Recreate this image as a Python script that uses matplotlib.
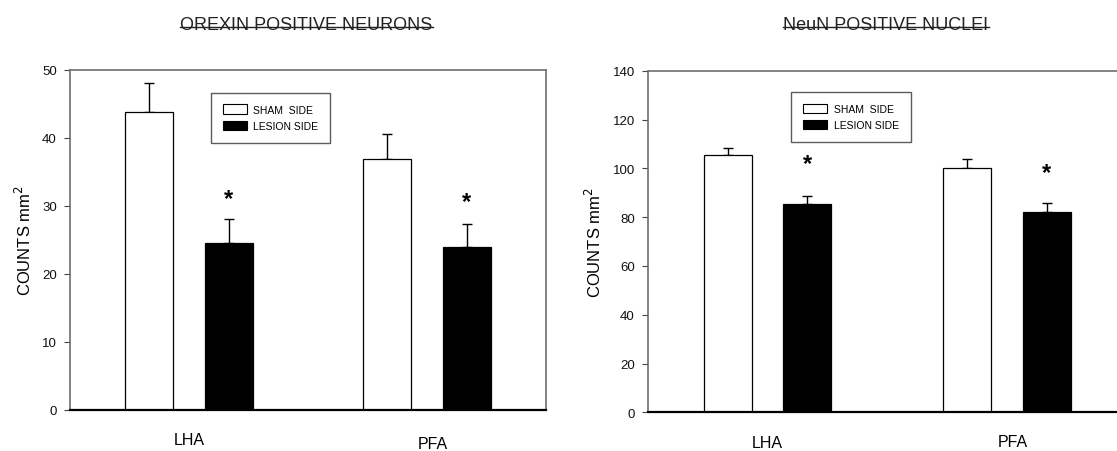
import matplotlib.pyplot as plt
from matplotlib.lines import Line2D
from matplotlib.patches import Patch

plt.rcParams["font.family"] = ["Liberation Sans", "DejaVu Sans"]

REGIONS = ["LHA", "PFA"]
SERIES = ["SHAM  SIDE", "LESION SIDE"]

OREXIN_SHAM = [43.8, 36.9]
OREXIN_SHAM_ERR = [4.2, 3.7]
OREXIN_LESION = [24.5, 24.0]
OREXIN_LESION_ERR = [3.6, 3.3]
OREXIN_STAR_Y = [31.0, 30.6]

NEUN_SHAM = [105.3, 100.0]
NEUN_SHAM_ERR = [3.2, 3.7]
NEUN_LESION = [85.2, 82.1]
NEUN_LESION_ERR = [3.6, 3.6]
NEUN_STAR_Y = [102.0, 98.4]

FW, FH = 1117, 452


def px_rect(left, top, right, bottom):
    """Axes rect in figure fraction from pixel box."""
    return [left / FW, (FH - bottom) / FH, (right - left) / FW,
            (bottom - top) / FH]


def panel(fig, rect, sham, sham_err, lesion, lesion_err, star_y,
          ymax, ystep, title, title_x, legend_anchor, pfa_y):
    ax = fig.add_axes(rect)
    centers = [0.5, 1.5]
    off = 0.167
    bw = 0.201
    xs_sham = [c - off for c in centers]
    xs_les = [c + off for c in centers]
    ax.bar(xs_sham, sham, bw, color="white", edgecolor="black", lw=0.9,
           zorder=2)
    ax.bar(xs_les, lesion, bw, color="black", edgecolor="black", lw=0.9,
           zorder=2)
    for xs, ys, err in [(xs_sham, sham, sham_err), (xs_les, lesion, lesion_err)]:
        ax.errorbar(xs, ys, yerr=[[0] * len(ys), err], fmt="none",
                    ecolor="black", elinewidth=1, capsize=3.6, capthick=1,
                    zorder=1)
    for x, y in zip(xs_les, star_y):
        ax.text(x, y, "*", ha="center", va="center", fontsize=17,
                fontweight="bold")

    ax.set_xlim(0, 2)
    ax.set_ylim(0, ymax)
    ax.set_yticks(range(0, ymax + 1, ystep))
    ax.set_xticks([])
    ax.tick_params(axis="y", direction="out", length=4.5, width=0.8,
                   pad=5, labelsize=9.5, colors="#444444",
                   labelcolor="#111111")
    for s in ["top", "right", "left"]:
        ax.spines[s].set_color("#6e6e6e")
        ax.spines[s].set_linewidth(1.2)
    ax.spines["bottom"].set_color("black")
    ax.spines["bottom"].set_linewidth(1.6)

    ax.set_ylabel("COUNTS mm$^2$", fontsize=12, labelpad=6)

    # category labels under the axis
    ax.text(centers[0], -0.088, REGIONS[0], transform=ax.get_xaxis_transform(),
            ha="center", va="center", fontsize=11.5)
    ax.text(centers[1] + 0.024, pfa_y, REGIONS[1],
            transform=ax.get_xaxis_transform(), ha="center", va="center",
            fontsize=11.5)

    handles = [Patch(facecolor="white", edgecolor="black", lw=0.8),
               Patch(facecolor="black", edgecolor="black", lw=0.8)]
    leg = ax.legend(handles, SERIES, loc="upper left",
                    bbox_to_anchor=legend_anchor, fontsize=7.5,
                    frameon=True, fancybox=False, edgecolor="#333333",
                    borderpad=1.15, handlelength=2.3, handleheight=1.0,
                    labelspacing=0.6, handletextpad=0.6, borderaxespad=0)
    leg.get_frame().set_linewidth(1.0)

    t = fig.text(title_x, 1 - 29.5 / FH, title, ha="center", va="baseline",
                 fontsize=13, color="#222222")
    return ax, t


fig = plt.figure(figsize=(FW / 100, FH / 100), dpi=100)

ax1, t1 = panel(fig, px_rect(70, 70.7, 546, 411),
                OREXIN_SHAM, OREXIN_SHAM_ERR, OREXIN_LESION,
                OREXIN_LESION_ERR, OREXIN_STAR_Y, 50, 10,
                "OREXIN POSITIVE NEURONS", 306.5 / FW, (0.296, 0.933),
                -0.098)
ax2, t2 = panel(fig, px_rect(647.9, 71.7, 1126.2, 413.3),
                NEUN_SHAM, NEUN_SHAM_ERR, NEUN_LESION,
                NEUN_LESION_ERR, NEUN_STAR_Y, 140, 20,
                "NeuN POSITIVE NUCLEI", 886 / FW, (0.300, 0.9385),
                -0.086)

# titles are underlined in the original figure
fig.canvas.draw()
for t in (t1, t2):
    bb = t.get_window_extent().transformed(fig.transFigure.inverted())
    y = 1 - 28.3 / FH
    fig.add_artist(Line2D([bb.x0, bb.x1], [y, y], transform=fig.transFigure,
                          color="#222222", lw=1.0))

fig.savefig("out.png", dpi=100)
